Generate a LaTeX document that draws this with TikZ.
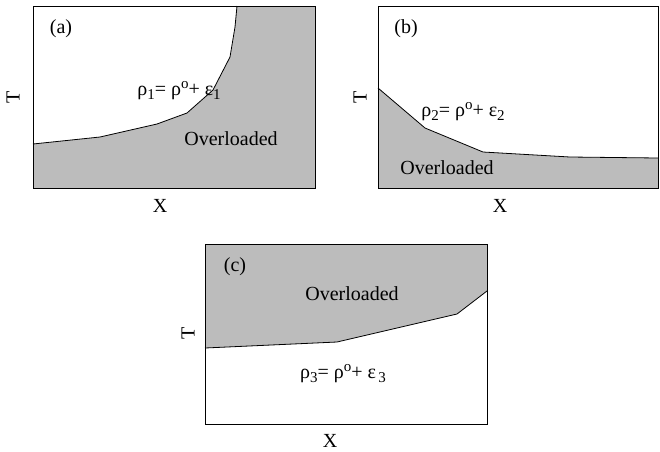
\documentclass[tikz,border=0pt]{standalone}
\usepackage{fontspec}
\setmainfont{Liberation Serif}
\definecolor{shade}{RGB}{188,188,188}
\newcommand{\lbl}[2]{ρ\raisebox{-0.35ex}{\fontsize{15}{15}\selectfont #1}= ρ\raisebox{0.75ex}{\fontsize{15}{15}\selectfont o}+ ε\raisebox{-0.35ex}{\fontsize{15}{15}\selectfont #2}}
\begin{document}
\begin{tikzpicture}[x=1pt,y=-1pt,
  txt/.style={inner sep=0pt,font=\fontsize{20}{22}\selectfont},
  frame/.style={draw=black,line width=0.9pt},
  bnd/.style={draw=black,line width=0.8pt},
  region/.style={fill=shade}]
\useasboundingbox (0,0) rectangle (660,451);
% ---- panel (a)
\fill[region] (33,144) -- (100,137) -- (157,124) -- (187,113) -- (213,90) -- (230,57) -- (235,27) -- (237,6) -- (315,6) -- (315,188) -- (33,188) -- cycle;
\draw[bnd] (33,144) -- (100,137) -- (157,124) -- (187,113) -- (213,90) -- (230,57) -- (235,27) -- (237,6);
\draw[frame] (33,6) rectangle (315,188);
\node[txt] (la) at (61,29) {(a)};
\node[txt] (ra) at (179,91) {\lbl{1}{1}};
\node[txt] (oa) at (231,139) {Overloaded};
\node[txt,rotate=90] (ta) at (13,97) {T};
\node[txt] (xa) at (160,206) {X};
% ---- panel (b)
\fill[region] (378,88) -- (425,128) -- (483,152) -- (570,157) -- (658,158) -- (658,188) -- (378,188) -- cycle;
\draw[bnd] (378,88) -- (425,128) -- (483,152) -- (570,157) -- (658,158);
\draw[frame] (378,6) rectangle (658,188);
\node[txt] (lb) at (406,29) {(b)};
\node[txt] (rb) at (463,112) {\lbl{2}{2}};
\node[txt] (ob) at (447,168) {Overloaded};
\node[txt,rotate=90] (tb) at (360,97) {T};
\node[txt] (xb) at (500,206) {X};
% ---- panel (c)
\fill[region] (205,244) -- (487,244) -- (487,291) -- (457,314) -- (337,342) -- (205,348) -- cycle;
\draw[bnd] (205,348) -- (337,342) -- (457,314) -- (487,291);
\draw[frame] (205,244) rectangle (487,424);
\node[txt] (lc) at (235,267) {(c)};
\node[txt] (oc) at (352,294) {Overloaded};
\node[txt] (rc) at (343,374) {\lbl{3}{\,3}};
\node[txt,rotate=90] (tc) at (188,333) {T};
\node[txt] (xc) at (330,441) {X};
\end{tikzpicture}
\end{document}
